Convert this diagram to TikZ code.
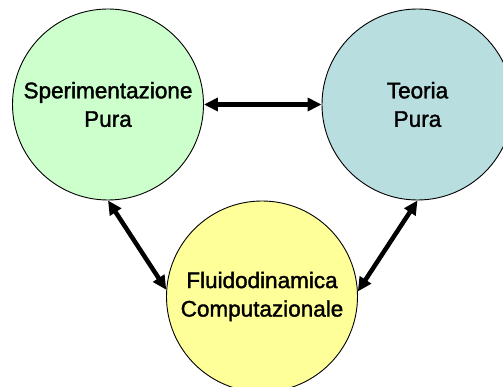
\documentclass[tikz,border=0pt]{standalone}
\usepackage{fontspec}
\setmainfont{Liberation Sans}
\newfontfamily\labelfont[FakeBold=1.6]{Liberation Sans}
\usetikzlibrary{arrows.meta}
\definecolor{cgreen}{HTML}{CCFFCC}
\definecolor{cblue}{HTML}{B8DEE0}
\definecolor{cyellow}{HTML}{FFFF99}
\begin{document}
\begin{tikzpicture}[x=1pt,y=-1pt,
  bubble/.style={circle,draw=black,line width=0.9pt,minimum size=191pt,inner sep=0pt,align=center,
     font=\labelfont\fontsize{22.5}{28.5}\selectfont},
  link/.style={line width=4.5pt,{Triangle[length=14pt,width=13pt]}-{Triangle[length=14pt,width=13pt]}}]
\useasboundingbox (0,0) rectangle (503,387);
\clip (0,0) rectangle (503,387);
\fill[white] (0,0) rectangle (503,387);
\node[bubble,fill=cgreen] (L) at (108,104.5) {Sperimentazione\\Pura};
\node[bubble,fill=cblue] (R) at (417.5,104.5) {Teoria\\Pura};
\node[bubble,fill=cyellow] (B) at (262,296.5) {Fluidodinamica\\Computazionale};
\draw[link] (L.east) -- (R.west);
\draw[link] (L.-90) -- (B.176);
\draw[link] (R.-90) -- (B.3);
\end{tikzpicture}
\end{document}
